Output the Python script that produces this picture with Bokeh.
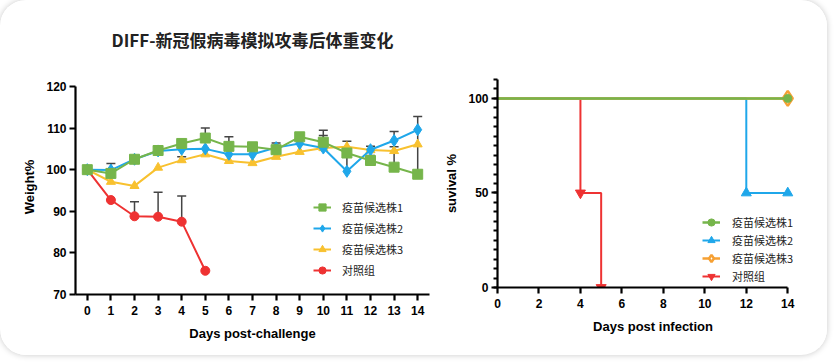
from bokeh.plotting import figure
from bokeh.layouts import row
from bokeh.models import Range1d, FixedTicker, Whisker, TeeHead, ColumnDataSource
from bokeh.embed import file_html
from bokeh.resources import INLINE

# ---------------- data: weight change ----------------
days = list(range(15))
names = ["疫苗候选株1", "疫苗候选株2", "疫苗候选株3", "对照组"]
title_text = "DIFF-新冠假病毒模拟攻毒后体重变化"
w_v1 = [100, 99.1, 102.5, 104.6, 106.3, 107.6, 105.6, 105.5, 104.8, 107.9, 106.6, 104.0, 102.2, 100.6, 98.9]
w_v2 = [100, 99.9, 102.5, 104.5, 104.9, 105.0, 103.7, 103.7, 105.3, 106.3, 105.2, 99.6, 104.8, 107.0, 109.6]
w_v3 = [100, 97.1, 96.1, 100.5, 102.3, 103.7, 102.1, 101.6, 103.1, 104.3, 105.2, 105.5, 104.7, 104.5, 106.1]
ctrl_days = [0, 1, 2, 3, 4, 5]
w_ctrl = [100, 92.7, 88.8, 88.7, 87.5, 75.7]

# upper error bars (day, top value)
err_v1_days = [2, 3, 5, 6, 9, 10, 12, 13, 14]
err_v1_top = [103.3, 105.6, 110.0, 107.9, 108.8, 109.5, 103.4, 105.5, 112.8]
err_v2_days = [1, 8, 10, 11, 12, 13]
err_v2_top = [101.5, 106.4, 108.2, 106.8, 105.6, 109.2]
err_v3_days = [4]
err_v3_top = [103.1]
err_ctrl_days = [2, 3, 4]
err_ctrl_top = [92.3, 94.6, 93.7]

# ---------------- data: survival ----------------
s_v1_days = [0, 14]
s_v1 = [100, 100]
s_v2_days = [0, 12, 14]
s_v2 = [100, 50, 50]
s_v3_days = [0, 14]
s_v3 = [100, 100]
s_ctrl_days = [0, 4, 5]
s_ctrl = [100, 50, 0]

GREEN = "#76b54b"
BLUE = "#1fa7ea"
YELLOW = "#f8c12f"
ORANGE = "#f6a033"
RED = "#ee3232"
TICK_FONT = "Liberation Sans"
CJK = "Noto Sans CJK SC"


def style_axes(p):
    for ax in (p.xaxis, p.yaxis):
        ax.axis_line_width = 2.2
        ax.axis_line_color = "black"
        ax.major_tick_line_width = 2.2
        ax.major_tick_line_color = "black"
        ax.major_tick_out = 6
        ax.major_tick_in = 0
        ax.minor_tick_line_width = 2
        ax.minor_tick_line_color = "black"
        ax.major_label_text_font = TICK_FONT
        ax.major_label_text_font_style = "bold"
        ax.major_label_text_font_size = "12px"
        ax.major_label_text_color = "black"
        ax.axis_label_text_font = TICK_FONT
        ax.axis_label_text_font_style = "bold"
        ax.axis_label_text_font_size = "13px"
        ax.axis_label_text_color = "black"
    p.grid.visible = False
    p.outline_line_color = None
    p.background_fill_color = "white"
    p.border_fill_color = "white"


# ---------------- left figure ----------------
p1 = figure(width=440, height=355, x_range=Range1d(-0.5, 14.5), y_range=Range1d(70, 121.67),
            output_backend="svg", toolbar_location=None,
            min_border_left=75, min_border_right=11, min_border_top=78, min_border_bottom=61)
style_axes(p1)
p1.yaxis.bounds = (70, 120)
p1.xaxis.ticker = FixedTicker(ticks=days, minor_ticks=[])
p1.yaxis.ticker = FixedTicker(ticks=[70, 80, 90, 100, 110, 120], minor_ticks=[])
p1.xaxis.axis_label = "Days post-challenge"
p1.yaxis.axis_label = "Weight%"
p1.xaxis.axis_label_standoff = 8
p1.yaxis.axis_label_standoff = 6
p1.xaxis.major_label_standoff = 5
p1.yaxis.major_label_standoff = 3

p1.title.text = title_text
p1.title.align = "center"
p1.title.vertical_align = "top"
p1.title.text_font = CJK
p1.title.text_font_size = "17px"
p1.title.text_font_style = "bold"
p1.title.text_color = "#222222"
p1.title.standoff = 52

series = [
    (days, w_v1, err_v1_days, err_v1_top, GREEN, "square", 10),
    (days, w_v2, err_v2_days, err_v2_top, BLUE, "diamond", 12),
    (days, w_v3, err_v3_days, err_v3_top, YELLOW, "triangle", 9),
    (ctrl_days, w_ctrl, err_ctrl_days, err_ctrl_top, RED, "circle", 9),
]
for (xs, ys, ed, et, col, mk, sz) in series:
    base = [ys[xs.index(d)] for d in ed]
    src = ColumnDataSource(dict(x=ed, lo=base, hi=et))
    p1.add_layout(Whisker(source=src, base="x", lower="lo", upper="hi", dimension="height",
                          line_color="#444444", line_width=1.5, lower_head=None,
                          upper_head=TeeHead(size=9, line_color="#444444", line_width=1.5)))

order = [3, 2, 1, 0]
for i in order:
    xs, ys, ed, et, col, mk, sz = series[i]
    p1.line(xs, ys, line_color=col, line_width=2, legend_label=names[i])
    p1.scatter(xs, ys, marker=mk, size=sz, fill_color=col, line_color=col, legend_label=names[i])

lg = p1.legend[0]
lg.items = [lg.items[3], lg.items[2], lg.items[1], lg.items[0]]
lg.location = (238, 14)
lg.background_fill_alpha = 0
lg.border_line_color = None
lg.padding = 0
lg.margin = 0
lg.spacing = 1
lg.label_height = 20
lg.glyph_height = 20
lg.glyph_width = 18
lg.label_standoff = 11
lg.label_text_font = CJK
lg.label_text_font_size = "11px"
lg.label_text_color = "#222222"

# ---------------- right figure ----------------
p2 = figure(width=387, height=348, x_range=Range1d(0, 15), y_range=Range1d(0, 110),
            output_backend="svg", toolbar_location=None,
            min_border_left=57, min_border_right=19, min_border_top=78, min_border_bottom=61)
style_axes(p2)
p2.xaxis.bounds = (0, 14)
p2.yaxis.bounds = (0, 110)
p2.xaxis.ticker = FixedTicker(ticks=[0, 2, 4, 6, 8, 10, 12, 14], minor_ticks=[])
p2.yaxis.ticker = FixedTicker(ticks=[0, 50, 100], minor_ticks=list(range(0, 111, 5)))
p2.yaxis.minor_tick_out = 4
p2.yaxis.minor_tick_in = 0
p2.xaxis.axis_label = "Days post infection"
p2.yaxis.axis_label = "suvival %"
p2.xaxis.axis_label_standoff = 8
p2.yaxis.axis_label_standoff = 6
p2.xaxis.major_label_standoff = 5
p2.yaxis.major_label_standoff = 3

p2.step(s_ctrl_days, s_ctrl, mode="after", line_color=RED, line_width=2, legend_label=names[3])
p2.scatter(s_ctrl_days[1:], s_ctrl[1:], marker="inverted_triangle", size=10,
           fill_color=RED, line_color=RED, legend_label=names[3])
p2.step(s_v2_days, s_v2, mode="after", line_color=BLUE, line_width=2, legend_label=names[1])
p2.scatter(s_v2_days[1:], s_v2[1:], marker="triangle", size=10,
           fill_color=BLUE, line_color=BLUE, legend_label=names[1])
p2.step(s_v3_days, s_v3, mode="after", line_color=ORANGE, line_width=2.5, legend_label=names[2])
p2.scatter(s_v3_days[1:], s_v3[1:], marker="diamond", size=15,
           fill_color="white", line_color=ORANGE, line_width=2.5, legend_label=names[2])
p2.step(s_v1_days, s_v1, mode="after", line_color=GREEN, line_width=2.5, legend_label=names[0])
p2.scatter(s_v1_days[1:], s_v1[1:], marker="circle", size=8,
           fill_color=GREEN, line_color=GREEN, legend_label=names[0])

lg2 = p2.legend[0]
lg2.items = [lg2.items[3], lg2.items[1], lg2.items[2], lg2.items[0]]
lg2.location = (205, 2)
lg2.background_fill_alpha = 0
lg2.border_line_color = None
lg2.padding = 0
lg2.margin = 0
lg2.spacing = 0
lg2.label_height = 18
lg2.glyph_height = 18
lg2.glyph_width = 18
lg2.label_standoff = 12
lg2.label_text_font = CJK
lg2.label_text_font_size = "11px"
lg2.label_text_color = "#222222"

layout = row(p1, p2, styles={"border-radius": "26px",
                             "box-shadow": "0 0 6px rgba(0,0,0,0.22)",
                             "background-color": "white",
                             "overflow": "hidden"})

open("out.html", "w").write(file_html(layout, INLINE))
